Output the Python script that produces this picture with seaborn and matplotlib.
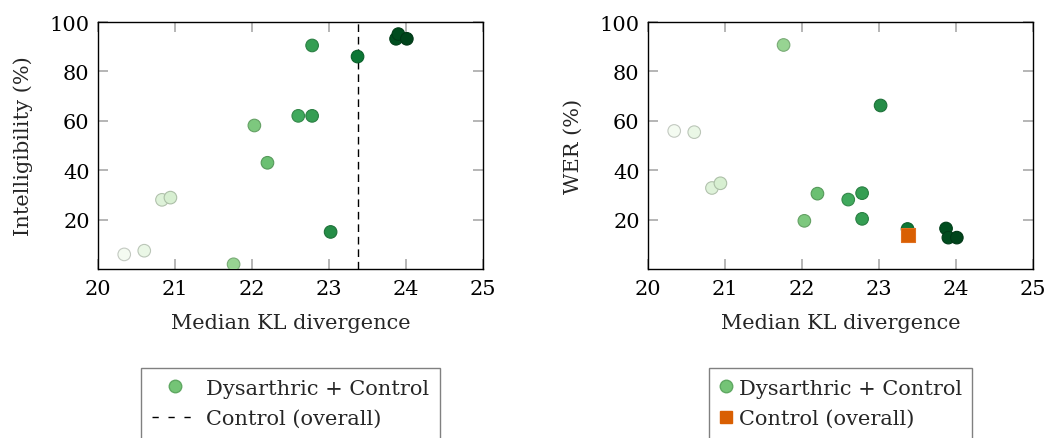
import numpy as np
import matplotlib
matplotlib.use("Agg")
import matplotlib.pyplot as plt
from matplotlib.lines import Line2D
import seaborn as sns

# ---- data ----
kl = [20.34, 20.60, 20.83, 20.94, 21.76, 22.03, 22.20, 22.60, 22.78, 22.78,
      23.02, 23.37, 23.87, 23.90, 24.01]
intelligibility = [5.9, 7.4, 28.0, 28.9, 1.9, 58.1, 43.0, 62.0, 62.0, 90.5,
                   15.0, 86.0, 93.2, 95.1, 93.2]
wer = [55.9, 55.4, 32.8, 34.7, 90.7, 19.5, 30.5, 28.1, 30.7, 20.3,
       66.2, 16.2, 16.4, 12.7, 12.7]
control_kl = 23.37
control_wer = 13.8
xticks = [20, 21, 22, 23, 24, 25]
yticks = [20, 40, 60, 80, 100]
series_label = "Dysarthric + Control"
control_label = "Control (overall)"

sns.set_theme(style="white")
plt.rcParams['font.family'] = ['DejaVu Serif']
plt.rcParams['mathtext.fontset'] = 'dejavuserif'

fig = plt.figure(figsize=(10.52, 4.39), dpi=100)
axL = fig.add_axes([0.0932, 0.385, 0.366, 0.5626])
axR = fig.add_axes([0.616, 0.385, 0.366, 0.5626])

hue_norm = (20.25, 24.0)
fs = 15


def darken(c, f=0.8):
    r, g, b, a = c
    return (r * f, g * f, b * f, 1.0)


def style_axes(ax, ylabel):
    ax.set_xlim(20, 25)
    ax.set_ylim(0, 100)
    ax.set_xticks(xticks)
    ax.set_yticks(yticks)
    ax.set_xticklabels([str(t) for t in xticks], fontsize=fs)
    ax.set_yticklabels([str(t) for t in yticks], fontsize=fs)
    ax.tick_params(axis="both", which="both", direction="in", length=7.5,
                   width=1.3, color="#b0b0b0", top=True, right=True,
                   bottom=True, left=True, pad=6, labelcolor="black")
    ax.tick_params(axis="x", pad=7)
    for sp in ax.spines.values():
        sp.set_color("black")
        sp.set_linewidth(1.0)
        sp.set_visible(True)
    ax.set_xlabel("Median KL divergence", fontsize=fs, labelpad=11)
    ax.set_ylabel(ylabel, fontsize=fs, labelpad=12)
    ax.grid(False)


# left panel
sns.scatterplot(x=kl, y=intelligibility, hue=kl, palette="Greens",
                hue_norm=hue_norm, s=82, legend=False, ax=axL, zorder=3)
coll = axL.collections[0]
fc = coll.get_facecolors()
coll.set_edgecolors([darken(c) for c in fc])
coll.set_linewidths(0.8)
axL.axvline(control_kl, color="black", linestyle=(0, (5.5, 3.5)), linewidth=1.0,
            zorder=2)
style_axes(axL, "Intelligibility (%)")

leg_kw = dict(loc="upper center", bbox_to_anchor=(0.5, -0.36), fontsize=fs,
              frameon=True, fancybox=False, edgecolor="#606060",
              labelspacing=0.55, borderpad=0.5)

handlesL = [
    Line2D([], [], marker="o", linestyle="none", markersize=9,
           markerfacecolor="#74c476", markeredgecolor="#5fa862"),
    Line2D([], [], color="black", linestyle=(0, (4.5, 7)), linewidth=1.0),
]
legL = axL.legend(handlesL, [series_label, control_label], handlelength=2.2,
                  handletextpad=0.4, **leg_kw)
legL.get_frame().set_linewidth(1.0)

# right panel
sns.scatterplot(x=kl, y=wer, hue=kl, palette="Greens",
                hue_norm=hue_norm, s=82, legend=False, ax=axR, zorder=3)
coll = axR.collections[0]
fc = coll.get_facecolors()
coll.set_edgecolors([darken(c) for c in fc])
coll.set_linewidths(0.8)
sns.scatterplot(x=[control_kl], y=[control_wer], marker="s", color="#d95f02",
                s=110, edgecolor="#e07020", linewidth=0.8, legend=False,
                ax=axR, zorder=4)
style_axes(axR, "WER (%)")

handlesR = [
    Line2D([], [], marker="o", linestyle="none", markersize=9,
           markerfacecolor="#74c476", markeredgecolor="#5fa862"),
    Line2D([], [], marker="s", linestyle="none", markersize=9,
           markerfacecolor="#d95f02", markeredgecolor="#d95f02"),
]
legR = axR.legend(handlesR, [series_label, control_label], handlelength=0.7,
                  handletextpad=0.25, **leg_kw)
legR.get_frame().set_linewidth(1.0)

fig.savefig("out.png", dpi=100)
